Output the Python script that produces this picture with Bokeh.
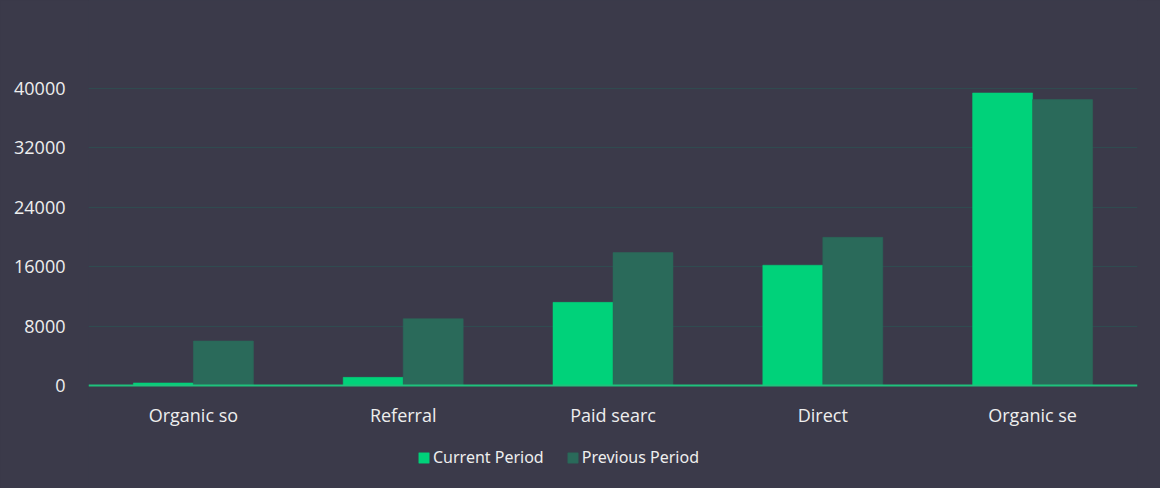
from bokeh.plotting import figure
from bokeh.models import (ColumnDataSource, FactorRange, Legend, LegendItem, FixedTicker,
                          Range1d, Span)
from bokeh.transform import dodge
from bokeh.core.properties import value
from bokeh.embed import file_html
from bokeh.resources import INLINE

categories = ["Organic so", "Referral", "Paid searc", "Direct", "Organic se"]
current_period = [350, 1100, 11200, 16200, 39400]
previous_period = [6000, 9000, 17900, 19950, 38500]
series_names = ["Current Period", "Previous Period"]
y_ticks = [0, 8000, 16000, 24000, 32000, 40000]

BG = "#3b3a4a"
C1 = "#00d27a"
C2 = "#2a6a5a"
TXT = "#eeeeee"

src = ColumnDataSource(dict(cat=categories, cur=current_period, prev=previous_period,
                            zero=[0] * len(categories)))

p = figure(x_range=FactorRange(*categories), y_range=Range1d(-13867, 51848),
           width=1160, height=488, output_backend="svg", toolbar_location=None, tools="",
           background_fill_color=BG, border_fill_color=BG, outline_line_color=None,
           min_border_left=88, min_border_right=23, min_border_top=0, min_border_bottom=0)
p.styles = {"background-color": BG}

r1 = p.vbar(x=dodge("cat", -0.143, range=p.x_range), top="cur", width=0.286, source=src,
            fill_color=C1, line_color=C1, line_width=0.5)
r2 = p.vbar(x=dodge("cat", 0.143, range=p.x_range), top="prev", width=0.286, source=src,
            fill_color=C2, line_color=C2, line_width=0.5)

# baseline
p.add_layout(Span(location=0, dimension="width", line_color="#1fc27c", line_width=2))

# category labels
p.text(x="cat", y="zero", text="cat", source=src, y_offset=29,
       text_align="center", text_baseline="middle",
       text_font=value("Open Sans"), text_font_size="18px", text_color=TXT)

p.xaxis.visible = False
p.yaxis.ticker = FixedTicker(ticks=y_ticks)
p.yaxis.axis_line_color = None
p.yaxis.major_tick_line_color = None
p.yaxis.minor_tick_line_color = None
p.yaxis.major_label_standoff = 17
p.yaxis.major_label_text_font = "Open Sans"
p.yaxis.major_label_text_font_size = "18px"
p.yaxis.major_label_text_color = TXT

p.xgrid.grid_line_color = None
p.ygrid.ticker = FixedTicker(ticks=y_ticks)
p.ygrid.grid_line_color = "#2f4b50"
p.ygrid.grid_line_width = 1

legend = Legend(items=[LegendItem(label=series_names[0], renderers=[r1]),
                       LegendItem(label=series_names[1], renderers=[r2])],
                orientation="horizontal", location=(329, 20),
                background_fill_alpha=0, border_line_color=None,
                label_text_font="Noto Sans", label_text_font_size="16px",
                label_text_color=TXT, glyph_width=13, glyph_height=13,
                label_standoff=3, spacing=22, padding=0, margin=0)
p.add_layout(legend, "center")

html = file_html(p, INLINE)
html = html.replace("<body", '<body style="background:%s"' % BG, 1)
open("out.html", "w").write(html)
